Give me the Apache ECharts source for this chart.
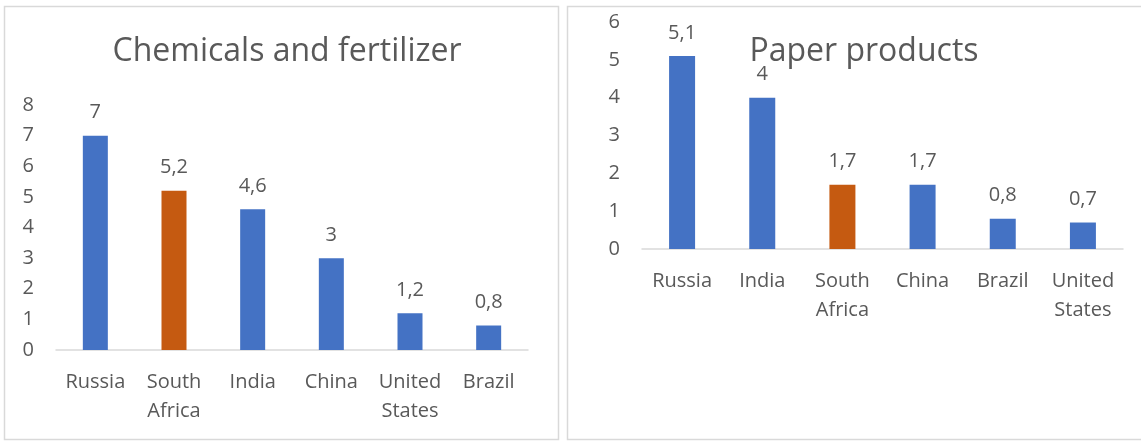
<!DOCTYPE html>
<html>
<head>
<meta charset="utf-8">
<script src="https://cdn.jsdelivr.net/npm/echarts@6/dist/echarts.min.js"></script>
<style>
  html, body { margin: 0; padding: 0; background: #fff; }
  #chart { width: 1141px; height: 441px; }
</style>
</head>
<body>
<div id="chart"></div>
<script>
// Chemicals and fertilizer
const chemCategories = ['Russia', 'South\nAfrica', 'India', 'China', 'United\nStates', 'Brazil'];
const chemValues = [7, 5.2, 4.6, 3, 1.2, 0.8];

// Paper products
const paperCategories = ['Russia', 'India', 'South\nAfrica', 'China', 'Brazil', 'United\nStates'];
const paperValues = [5.1, 4, 1.7, 1.7, 0.8, 0.7];

const highlight = 'South\nAfrica';
const BLUE = '#4472C4';
const ORANGE = '#C55A11';
const TEXT = '#595959';
const FONT = '"Open Sans", sans-serif';

function barData(cats, vals) {
  return vals.map((v, i) => ({
    value: v,
    itemStyle: { color: cats[i] === highlight ? ORANGE : BLUE }
  }));
}

const commaLabel = p => String(p.value).replace('.', ',');

function xAxis(idx, cats) {
  return {
    type: 'category', gridIndex: idx, data: cats,
    axisLine: { lineStyle: { color: '#D9D9D9', width: 1.5 } },
    axisTick: { show: false },
    axisLabel: { color: TEXT, fontFamily: FONT, fontSize: 20, lineHeight: 29, margin: 18, interval: 0 }
  };
}

function yAxis(idx, max) {
  return {
    type: 'value', gridIndex: idx, min: 0, max: max, interval: 1,
    splitLine: { show: false },
    axisLine: { show: false },
    axisTick: { show: false },
    axisLabel: { color: TEXT, fontFamily: FONT, fontSize: 20, margin: 22 }
  };
}

function series(idx, cats, vals, w) {
  return {
    type: 'bar', xAxisIndex: idx, yAxisIndex: idx,
    data: barData(cats, vals), barWidth: w,
    label: { show: true, position: 'top', distance: 13, color: TEXT, fontFamily: FONT, fontSize: 20, formatter: commaLabel }
  };
}

const chart = echarts.init(document.getElementById('chart'), null, { renderer: 'canvas' });
chart.setOption({
  animation: false,
  backgroundColor: '#fff',
  title: [
    { text: 'Chemicals and fertilizer', left: 282, top: 31, textAlign: 'center',
      textStyle: { color: TEXT, fontFamily: FONT, fontSize: 32, fontWeight: 'normal' } },
    { text: 'Paper products', left: 859, top: 31, textAlign: 'center',
      textStyle: { color: TEXT, fontFamily: FONT, fontSize: 32, fontWeight: 'normal' } }
  ],
  graphic: [
    { type: 'rect', shape: { x: 4.5, y: 6.5, width: 554, height: 433 }, z: -1,
      style: { fill: 'none', stroke: '#D9D9D9', lineWidth: 1.5 } },
    { type: 'rect', shape: { x: 567.5, y: 6.5, width: 590, height: 433 }, z: -1,
      style: { fill: 'none', stroke: '#D9D9D9', lineWidth: 1.5 } }
  ],
  grid: [
    { left: 56, top: 105, width: 472, height: 245 },
    { left: 642, top: 22, width: 481, height: 227 }
  ],
  xAxis: [xAxis(0, chemCategories), xAxis(1, paperCategories)],
  yAxis: [yAxis(0, 8), yAxis(1, 6)],
  series: [series(0, chemCategories, chemValues, 25), series(1, paperCategories, paperValues, 26)]
});
</script>
</body>
</html>
